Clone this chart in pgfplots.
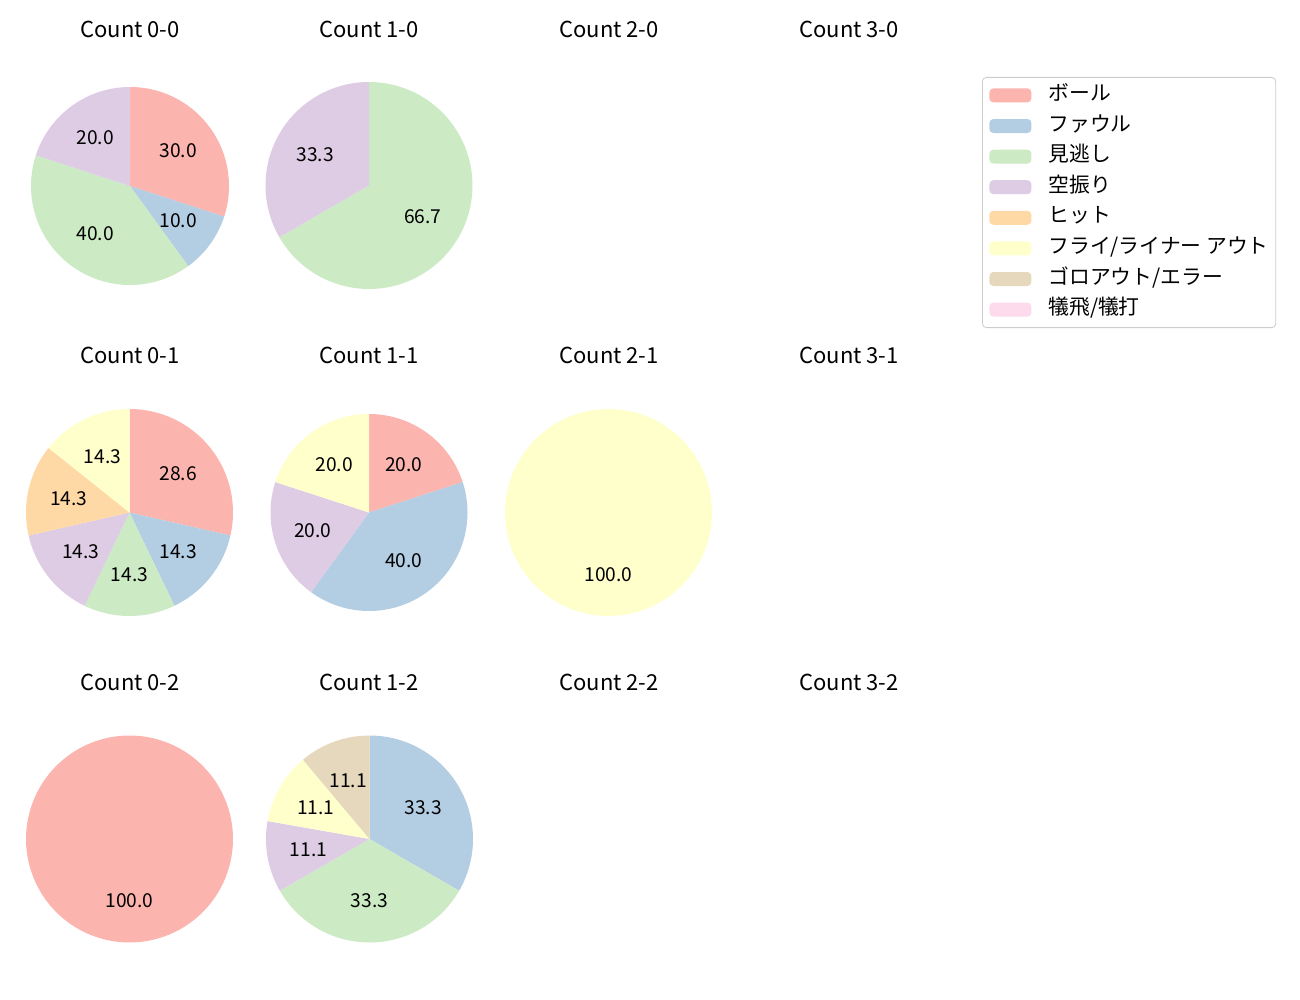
\documentclass[border=0pt]{standalone}
\usepackage{fontspec}
\setmainfont{Noto Sans CJK JP}
\usepackage{pgfplots}
\pgfplotsset{compat=1.18}
\definecolor{c1}{HTML}{FBB4AE}
\definecolor{c2}{HTML}{B3CDE3}
\definecolor{c3}{HTML}{CCEBC5}
\definecolor{c4}{HTML}{DECBE4}
\definecolor{c5}{HTML}{FED9A6}
\definecolor{c6}{HTML}{FFFFCC}
\definecolor{c7}{HTML}{E5D8BD}
\definecolor{c8}{HTML}{FDDAEC}
\newcommand\titlefont{\fontsize{11}{12}\selectfont}
\newcommand\labfont{\fontsize{9.6}{11}\selectfont}
\newcommand\legfont{\fontsize{10.4}{11}\selectfont}
% #1 cumulative start (percent), #2 value (percent), #3 colour, #4 label
\newcommand\slice[4]{%
  \addplot[draw=none, fill=#3, domain={90-3.6*(#1+#2)}:{90-3.6*#1}, samples=120, variable=\t]
    ({cos(\t)},{sin(\t)}) -- (0,0) -- cycle;
  \node[font=\labfont] at ({0.6*cos(90-3.6*(#1+#2/2))},{0.6*sin(90-3.6*(#1+#2/2))}) {#4};
}
\pgfplotsset{pie/.style={hide axis, scale only axis, xmin=-1, xmax=1, ymin=-1, ymax=1, clip=false, anchor=center}}
\begin{document}
\begin{tikzpicture}
\path[use as bounding box] (0pt,0pt) rectangle (650pt,-500pt);
% titles
\foreach \cx/\lx in {65/0,184.5/1,304.5/2,424.5/3}{
  \node[font=\titlefont] at (\cx pt,-14.5pt) {Count \lx-0};
  \node[font=\titlefont] at (\cx pt,-177.5pt) {Count \lx-1};
  \node[font=\titlefont] at (\cx pt,-341pt) {Count \lx-2};
}
% Count 0-0
\begin{axis}[pie, at={(65pt,-93pt)}, width=99pt, height=99pt]
\slice{0}{30}{c1}{30.0}
\slice{30}{10}{c2}{10.0}
\slice{40}{40}{c3}{40.0}
\slice{80}{20}{c4}{20.0}
\end{axis}
% Count 1-0
\begin{axis}[pie, at={(184.5pt,-92.75pt)}, width=103.5pt, height=103.5pt]
\slice{0}{66.67}{c3}{66.7}
\slice{66.67}{33.33}{c4}{33.3}
\end{axis}
% Count 0-1
\begin{axis}[pie, at={(64.75pt,-256.25pt)}, width=103.5pt, height=103.5pt]
\slice{0}{28.57}{c1}{28.6}
\slice{28.57}{14.29}{c2}{14.3}
\slice{42.86}{14.29}{c3}{14.3}
\slice{57.14}{14.29}{c4}{14.3}
\slice{71.43}{14.29}{c5}{14.3}
\slice{85.71}{14.29}{c6}{14.3}
\end{axis}
% Count 1-1
\begin{axis}[pie, at={(184.5pt,-256.25pt)}, width=98.5pt, height=98.5pt]
\slice{0}{20}{c1}{20.0}
\slice{20}{40}{c2}{40.0}
\slice{60}{20}{c4}{20.0}
\slice{80}{20}{c6}{20.0}
\end{axis}
% Count 2-1
\begin{axis}[pie, at={(304.25pt,-256.25pt)}, width=103.5pt, height=103.5pt]
\slice{0}{100}{c6}{100.0}
\end{axis}
% Count 0-2
\begin{axis}[pie, at={(64.75pt,-419.5pt)}, width=103.5pt, height=103.5pt]
\slice{0}{100}{c1}{100.0}
\end{axis}
% Count 1-2
\begin{axis}[pie, at={(184.75pt,-419.5pt)}, width=103.5pt, height=103.5pt]
\slice{0}{33.33}{c2}{33.3}
\slice{33.33}{33.33}{c3}{33.3}
\slice{66.67}{11.11}{c4}{11.1}
\slice{77.78}{11.11}{c6}{11.1}
\slice{88.89}{11.11}{c7}{11.1}
\end{axis}
% legend
\begin{axis}[hide axis, scale only axis, width=10pt, height=10pt, xmin=0, xmax=1, ymin=0, ymax=1,
  at={(491pt,-38.5pt)}, anchor=north west,
  legend style={at={(0,1)}, anchor=north west, draw=black!20, rounded corners=2pt, font=\legfont,
    inner xsep=3.5pt, inner ysep=4pt, row sep=5.3pt, column sep=8.5pt,
    nodes={inner sep=0pt, text height=7.5pt, text depth=2.5pt}, cells={anchor=west}},
  legend image code/.code={\fill[#1] (0pt,-3.5pt) rectangle (21pt,3.5pt);}]
\addlegendimage{fill=c1, draw=none}\addlegendentry{ボール}
\addlegendimage{fill=c2, draw=none}\addlegendentry{ファウル}
\addlegendimage{fill=c3, draw=none}\addlegendentry{見逃し}
\addlegendimage{fill=c4, draw=none}\addlegendentry{空振り}
\addlegendimage{fill=c5, draw=none}\addlegendentry{ヒット}
\addlegendimage{fill=c6, draw=none}\addlegendentry{フライ/ライナー アウト}
\addlegendimage{fill=c7, draw=none}\addlegendentry{ゴロアウト/エラー}
\addlegendimage{fill=c8, draw=none}\addlegendentry{犠飛/犠打}
\end{axis}
\end{tikzpicture}
\end{document}
